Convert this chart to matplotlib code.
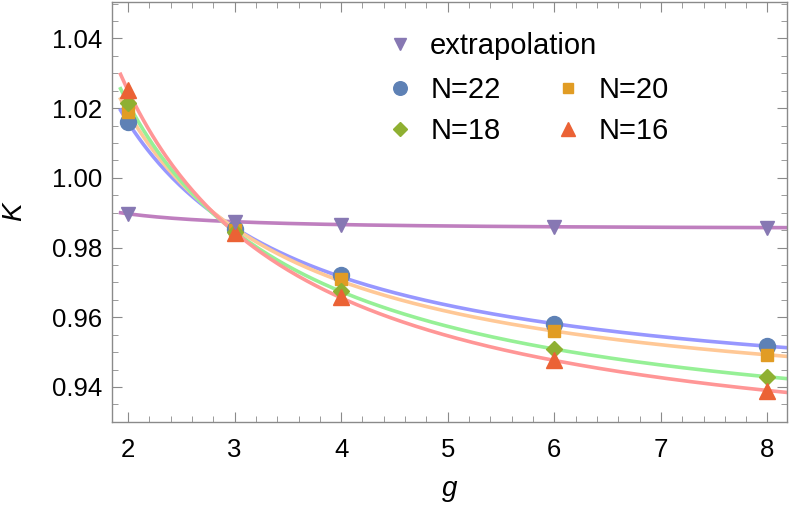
import numpy as np
import matplotlib
matplotlib.use("Agg")
import matplotlib.pyplot as plt
from matplotlib.lines import Line2D
from matplotlib.ticker import MultipleLocator

plt.rcParams['font.family'] = ['Liberation Sans', 'DejaVu Sans']

g = [2, 3, 4, 6, 8]
K_extrap = [0.9897, 0.9874, 0.9866, 0.9860, 0.9857]
K_N22 = [1.0160, 0.9854, 0.9720, 0.9580, 0.9517]
K_N20 = [1.0189, 0.9851, 0.9709, 0.9560, 0.9491]
K_N18 = [1.0214, 0.9846, 0.9674, 0.9509, 0.9429]
K_N16 = [1.0251, 0.9843, 0.9657, 0.9477, 0.9389]

series = [
    ("N=22", K_N22, "o", "#5E81B5", "#9797FF", 11.5),
    ("N=20", K_N20, "s", "#E19C24", "#FFC896", 9),
    ("N=18", K_N18, "D", "#8FB032", "#96F096", 8.5),
    ("N=16", K_N16, "^", "#EB6235", "#FF9696", 11.5),
]

fig = plt.figure(figsize=(7.89, 5.07), dpi=100)
ax = fig.add_axes([0.142, 0.168, 0.855, 0.829])

gg = np.linspace(1.93, 8.3, 300)
def fit_curve(y):
    x = 1.0 / np.asarray(g, float)
    c = np.polyfit(x, y, 2)
    return np.polyval(c, 1.0 / gg)

# fitted curves
ax.plot(gg, fit_curve(K_extrap), color="#BF7FBF", lw=2.6, zorder=2)
for name, y, m, mc, lc, ms in series:
    ax.plot(gg, fit_curve(y), color=lc, lw=2.6, zorder=2)

# markers
for name, y, m, mc, lc, ms in series:
    ax.plot(g, y, linestyle="none", marker=m, color=mc, markersize=ms, zorder=3)
ax.plot(g, K_extrap, linestyle="none", marker="v", color="#8778B3", markersize=10, zorder=4)

ax.set_xlim(1.85, 8.18)
ax.set_ylim(0.93, 1.0506)
ax.xaxis.set_major_locator(MultipleLocator(1))
ax.xaxis.set_minor_locator(MultipleLocator(0.2))
ax.yaxis.set_major_locator(MultipleLocator(0.02))
ax.yaxis.set_minor_locator(MultipleLocator(0.005))
ax.yaxis.set_major_formatter(matplotlib.ticker.FormatStrFormatter('%.2f'))

for s in ax.spines.values():
    s.set_color("#8a8a8a")
    s.set_linewidth(1.0)
ax.tick_params(which="both", direction="in", top=True, right=True, color="#8a8a8a",
               labelsize=18.5)
ax.tick_params(axis="x", pad=12)
ax.tick_params(axis="y", pad=7)
ax.tick_params(which="major", length=7)
ax.tick_params(which="minor", length=4)

ax.set_xlabel("g", fontsize=20, style="italic", labelpad=10)
ax.set_ylabel("K", fontsize=20, style="italic", labelpad=18)

# legends
h_ex = [Line2D([], [], linestyle="none", marker="v", color="#8778B3", markersize=9)]
leg1 = ax.legend(h_ex, ["extrapolation"], loc="upper left", bbox_to_anchor=(0.383, 0.955),
                 frameon=False, fontsize=21, handletextpad=0.45, borderaxespad=0,
                 handlelength=1.2)
ax.add_artist(leg1)
order = [0, 2, 1, 3]
hs = [Line2D([], [], linestyle="none", marker=series[i][2], color=series[i][3],
             markersize=series[i][5] * 0.85) for i in order]
labels = [series[i][0] for i in order]
ax.legend(hs, labels, loc="upper left", bbox_to_anchor=(0.383, 0.85), ncol=2,
          frameon=False, fontsize=21, handletextpad=0.45, columnspacing=1.7,
          labelspacing=0.45, borderaxespad=0, handlelength=1.2)

fig.savefig("out.png", dpi=100)
